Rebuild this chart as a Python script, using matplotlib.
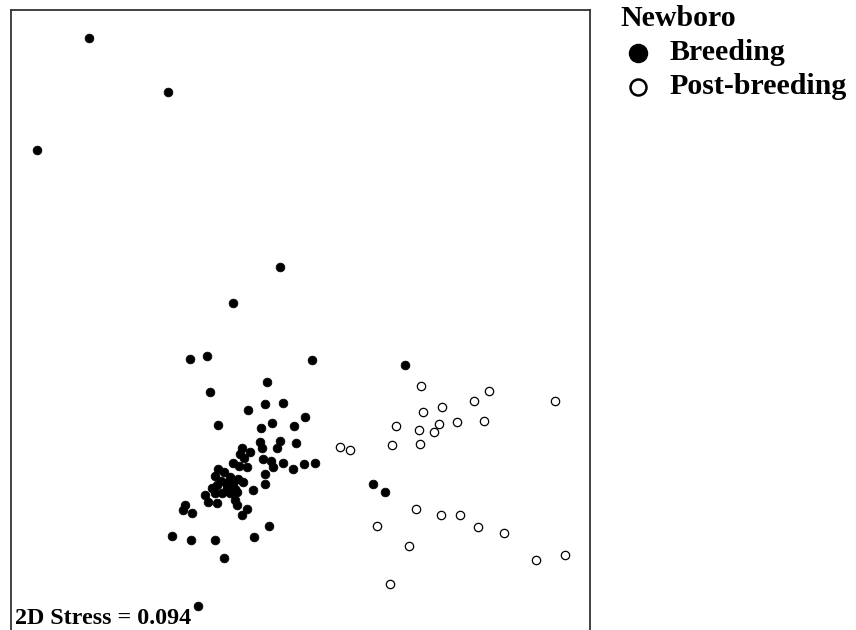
import matplotlib
matplotlib.use("Agg")
import matplotlib.pyplot as plt
from matplotlib.lines import Line2D
import numpy as np

plt.rcParams['font.family'] = ['Liberation Serif', 'DejaVu Serif']

# NMDS coordinates
breeding_px = [
    (89, 38), (168, 92), (37, 150), (280, 267), (233, 303), (190, 359), (207, 356),
    (312, 360), (405, 365), (267, 382), (210, 392), (248, 410), (265, 404), (283, 403),
    (305, 417), (218, 425), (261, 428), (272, 423), (294, 426), (260, 442), (262, 448),
    (280, 441), (277, 448), (296, 443), (242, 448), (250, 452), (240, 454), (244, 458),
    (233, 463), (239, 466), (247, 467), (263, 459), (271, 461), (273, 467), (283, 463),
    (293, 469), (304, 464), (315, 463), (218, 469), (224, 472), (215, 476), (265, 474),
    (230, 477), (238, 479), (221, 481), (226, 483), (233, 483), (243, 482), (217, 485),
    (265, 484), (212, 488), (227, 488), (235, 489), (253, 490), (205, 495), (215, 493),
    (222, 493), (230, 493), (237, 492), (208, 502), (217, 503), (235, 500), (237, 505),
    (247, 509), (242, 515), (185, 505), (183, 510), (192, 513), (269, 526), (172, 536),
    (191, 540), (215, 540), (254, 537), (224, 558), (198, 606), (373, 484), (385, 492),
]
post_px = [
    (421, 386), (489, 391), (555, 401), (474, 401), (423, 412), (442, 407), (396, 426),
    (419, 430), (439, 424), (434, 432), (457, 422), (484, 421), (340, 447), (350, 450),
    (392, 445), (420, 444), (416, 509), (441, 515), (460, 515), (478, 527), (504, 533),
    (377, 526), (409, 546), (536, 560), (565, 555), (390, 584),
]

breeding_x = [round((p[0] - 300) / 150, 3) for p in breeding_px]
breeding_y = [round((350 - p[1]) / 150, 3) for p in breeding_px]
post_x = [round((p[0] - 300) / 150, 3) for p in post_px]
post_y = [round((350 - p[1]) / 150, 3) for p in post_px]

stress_label = "2D Stress = 0.094"
legend_title = "Newboro"
group_labels = ["Breeding", "Post-breeding"]

W, H = 856, 630
fig = plt.figure(figsize=(W / 100, H / 100), dpi=100)
ax = fig.add_axes([11 / W, 0, (590 - 11) / W, (630 - 10) / H])
ax.set_xlim((11 - 300) / 150, (590 - 300) / 150)
ax.set_ylim((350 - 630) / 150, (350 - 10) / 150)

ax.scatter(breeding_x, breeding_y, s=40, c='black', edgecolors='black', linewidths=0.5, zorder=3)
ax.scatter(post_x, post_y, s=36, facecolors='white', edgecolors='black', linewidths=0.9, zorder=3)

ax.set_xticks([])
ax.set_yticks([])
ax.spines['bottom'].set_visible(False)
for s in ['left', 'top', 'right']:
    ax.spines[s].set_linewidth(1.3)
    ax.spines[s].set_color('#333333')

ax.text(15 / W, 0.002, stress_label, transform=fig.transFigure, fontsize=17.3, fontweight='bold',
        ha='left', va='bottom')

# legend
fs = 21.5
fig.text(620 / W, 1 - 18 / H, legend_title, fontsize=fs, fontweight='bold', ha='left', va='center')
fig.add_artist(Line2D([638 / W], [1 - 53 / H], marker='o', markersize=13, color='black',
                      markerfacecolor='black', transform=fig.transFigure, linestyle='none'))
fig.add_artist(Line2D([638 / W], [1 - 87 / H], marker='o', markersize=11.5, color='black',
                      markerfacecolor='white', markeredgewidth=1.8, transform=fig.transFigure,
                      linestyle='none'))
fig.text(669 / W, 1 - 52 / H, group_labels[0], fontsize=fs, fontweight='bold', ha='left', va='center')
fig.text(669 / W, 1 - 87 / H, group_labels[1], fontsize=fs, fontweight='bold', ha='left', va='center')

fig.savefig("out.png", dpi=100)
